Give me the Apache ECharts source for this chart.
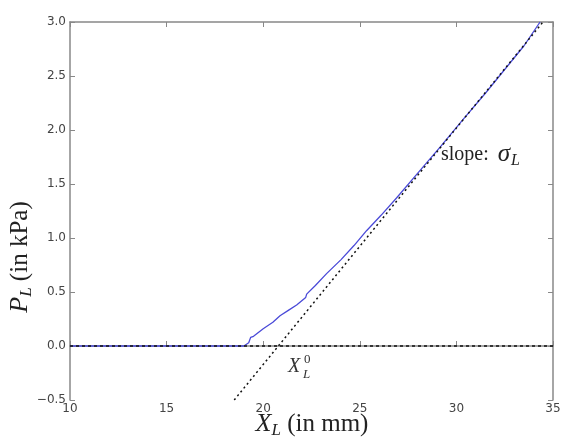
<!DOCTYPE html>
<html>
<head>
<meta charset="utf-8">
<script src="https://cdn.jsdelivr.net/npm/echarts@6/dist/echarts.min.js"></script>
<style>
  html, body { margin: 0; padding: 0; background: #fff; }
  #main { width: 563px; height: 438px; }
</style>
</head>
<body>
<div id="main"></div>
<script>
// measured curve P_L vs X_L
var blueX = [10, 12, 14, 16, 18, 19.0, 19.25, 19.35, 19.5, 20.0, 20.5, 20.87, 21.3, 21.73, 22.2, 22.25, 22.7, 23.28, 24.03, 24.7, 25.36, 26.1, 26.9, 28.0, 29.2, 30.36, 31.5, 32.5, 33.5, 34.33];
var blueY = [0, 0, 0, 0, 0, 0, 0.03, 0.08, 0.09, 0.16, 0.22, 0.28, 0.33, 0.38, 0.45, 0.48, 0.56, 0.67, 0.80, 0.93, 1.07, 1.21, 1.37, 1.60, 1.85, 2.10, 2.34, 2.56, 2.78, 3.0];
// tangent (slope) line and baseline
var tangentX = [18.5, 34.48];
var tangentY = [-0.5, 3.0];
var baseX = [10, 35];
var baseY = [0, 0];

function pairs(xs, ys) {
  var out = [];
  for (var i = 0; i < xs.length; i++) out.push([xs[i], ys[i]]);
  return out;
}

var myChart = echarts.init(document.getElementById('main'));
var frame = '#888888';
var serif = 'Liberation Serif';
var titleRich = {
  i: { fontFamily: serif, fontStyle: 'italic', fontSize: 26, fill: '#222' },
  s: { fontFamily: serif, fontStyle: 'italic', fontSize: 17, fill: '#222', padding: [14, 0, 0, 0] },
  t: { fontFamily: serif, fontSize: 25, fill: '#222' }
};

var option = {
  animation: false,
  backgroundColor: '#fff',
  grid: { left: 70, right: 10, top: 22, bottom: 38, containLabel: false, outerBoundsMode: 'none' },
  xAxis: [{
    type: 'value', min: 10, max: 35, interval: 5,
    axisLine: { lineStyle: { color: frame, width: 1.5 } },
    axisTick: { inside: true, length: 5, lineStyle: { color: frame } },
    splitLine: { show: false },
    axisLabel: { color: '#444', fontSize: 12, fontFamily: 'DejaVu Sans', margin: 3 }
  }, {
    type: 'value', position: 'top', min: 10, max: 35, interval: 5,
    axisLine: { show: true, onZero: false, lineStyle: { color: frame, width: 1.5 } },
    axisTick: { show: true, inside: true, length: 5, lineStyle: { color: frame } },
    axisLabel: { show: false }, splitLine: { show: false }
  }],
  yAxis: [{
    type: 'value', min: -0.5, max: 3.0, interval: 0.5,
    axisLine: { show: true, onZero: false, lineStyle: { color: frame, width: 1.5 } },
    axisTick: { show: true, inside: true, length: 5, lineStyle: { color: frame } },
    splitLine: { show: false },
    axisLabel: {
      color: '#444', fontSize: 12, fontFamily: 'DejaVu Sans', margin: 4,
      formatter: function (v) { return (v < 0 ? '\u2212' : '') + Math.abs(v).toFixed(1); }
    }
  }, {
    type: 'value', position: 'right', min: -0.5, max: 3.0, interval: 0.5,
    axisLine: { show: true, onZero: false, lineStyle: { color: frame, width: 1.5 } },
    axisTick: { show: true, inside: true, length: 5, lineStyle: { color: frame } },
    axisLabel: { show: false }, splitLine: { show: false }
  }],
  series: [{
    name: 'curve', type: 'line', showSymbol: false,
    data: pairs(blueX, blueY),
    lineStyle: { color: '#4a4ad8', width: 1.3 }, z: 3
  }, {
    name: 'base', type: 'line', showSymbol: false,
    data: pairs(baseX, baseY),
    lineStyle: { color: '#111', width: 1.5, type: [3, 3] }, z: 4
  }, {
    name: 'slope', type: 'line', showSymbol: false,
    data: pairs(tangentX, tangentY),
    lineStyle: { color: '#111', width: 1.5, type: [2, 3] }, z: 4
  }],
  graphic: [
    // axis titles
    { type: 'text', x: 312, y: 424,
      style: { text: '{i|X}{s|L}{t| (in mm)}', rich: titleRich, align: 'center', verticalAlign: 'middle' } },
    { type: 'text', x: 20, y: 257, rotation: Math.PI / 2,
      style: { text: '{i|P}{s|L}{t| (in kPa)}', rich: titleRich, align: 'center', verticalAlign: 'middle' } },
    // annotations
    { type: 'text', left: 441, top: 142,
      style: { text: '{a|slope: }{b|σ}{c|L}', rich: {
        a: { fontFamily: serif, fontSize: 20, fill: '#222' },
        b: { fontFamily: serif, fontStyle: 'italic', fontSize: 25, fill: '#222', padding: [0, 1, 0, 4] },
        c: { fontFamily: serif, fontStyle: 'italic', fontSize: 16, fill: '#222', padding: [12, 0, 0, 0] }
      } } },
    { type: 'text', left: 288, top: 357,
      style: { text: 'X', fontFamily: serif, fontStyle: 'italic', fontSize: 20, fill: '#333' } },
    { type: 'text', left: 304, top: 353,
      style: { text: '0', fontFamily: serif, fontSize: 13, fill: '#333' } },
    { type: 'text', left: 303, top: 368,
      style: { text: 'L', fontFamily: serif, fontStyle: 'italic', fontSize: 13, fill: '#333' } }
  ]
};
myChart.setOption(option);
</script>
</body>
</html>
